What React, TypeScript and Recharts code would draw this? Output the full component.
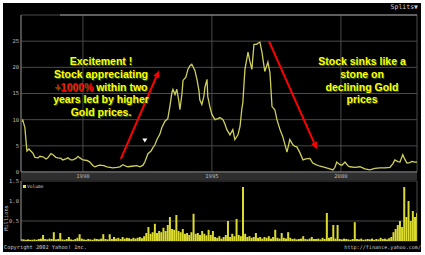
import React from 'react';
import { LineChart, Line, BarChart, Bar, XAxis, YAxis, CartesianGrid, ReferenceLine, ReferenceDot } from 'recharts';

// price readings (year, close in $)
const priceYears = [
  1987.64, 1987.67, 1987.75, 1987.83, 1987.91, 1987.98, 1988.06, 1988.14, 1988.26, 1988.33,
  1988.45, 1988.57, 1988.64, 1988.76, 1988.84, 1988.95, 1989.03, 1989.15, 1989.22, 1989.34,
  1989.42, 1989.53, 1989.61, 1989.73, 1989.81, 1989.88, 1990.0, 1990.16, 1990.27, 1990.39,
  1990.47, 1990.58, 1990.66, 1990.81, 1990.93, 1991.05, 1991.16, 1991.32, 1991.43, 1991.55,
  1991.67, 1991.74, 1991.9, 1992.09, 1992.21, 1992.33, 1992.4, 1992.52, 1992.64, 1992.71,
  1992.79, 1992.87, 1992.98, 1993.06, 1993.18, 1993.29, 1993.37, 1993.45, 1993.49, 1993.57,
  1993.64, 1993.72, 1993.76, 1993.84, 1993.88, 1993.99, 1994.07, 1994.15, 1994.22, 1994.26,
  1994.34, 1994.42, 1994.5, 1994.53, 1994.61, 1994.69, 1994.73, 1994.81, 1994.84, 1994.92,
  1995.0, 1995.12, 1995.23, 1995.31, 1995.43, 1995.5, 1995.58, 1995.7, 1995.81, 1995.89,
  1996.01, 1996.09, 1996.16, 1996.2, 1996.28, 1996.4, 1996.47, 1996.55, 1996.63, 1996.74,
  1996.78, 1996.86, 1996.94, 1997.05, 1997.17, 1997.25, 1997.33, 1997.44, 1997.52, 1997.64,
  1997.75, 1997.91, 1998.02, 1998.14, 1998.22, 1998.29, 1998.41, 1998.53, 1998.64, 1998.8,
  1998.91, 1999.03, 1999.19, 1999.38, 1999.57, 1999.69, 1999.77, 1999.84, 1999.96, 2000.04,
  2000.16, 2000.27, 2000.35, 2000.54, 2000.74, 2000.93, 2001.12, 2001.32, 2001.51, 2001.71,
  2001.9, 2002.02, 2002.09, 2002.21, 2002.29, 2002.4, 2002.48, 2002.56, 2002.67, 2002.75,
  2002.87, 2002.95,
];
const prices = [
  9.6, 9.9, 8.5, 4.0, 4.4, 4.0, 3.6, 2.8, 2.7, 3.0,
  2.9, 2.5, 2.7, 3.5, 3.3, 2.8, 2.7, 2.6, 2.3, 2.5,
  2.7, 2.3, 2.3, 2.6, 3.0, 2.7, 2.3, 2.2, 1.9, 1.2,
  1.0, 1.2, 1.3, 1.2, 1.0, 0.9, 0.8, 0.9, 1.0, 1.4,
  1.1, 1.0, 1.1, 1.2, 1.0, 1.3, 1.9, 3.5, 4.0, 4.6,
  5.2, 6.2, 7.2, 8.5, 9.7, 10.2, 12.5, 15.2, 15.8, 14.8,
  15.8, 13.5, 11.9, 15.0, 17.5, 18.1, 19.6, 20.3, 20.6, 20.2,
  19.4, 17.7, 15.5, 13.8, 12.9, 14.5, 16.2, 17.7, 14.4, 12.5,
  11.0, 10.0, 10.2, 10.4, 10.0, 9.2, 8.1, 7.1, 8.1, 6.2,
  7.1, 8.7, 12.0, 13.3, 19.6, 22.9, 21.2, 19.6, 24.4, 24.4,
  24.6, 24.8, 22.9, 19.2, 21.0, 19.0, 12.5, 11.9, 10.0, 8.1,
  6.7, 3.8, 6.2, 5.2, 4.9, 4.8, 3.7, 2.3, 2.5, 2.6,
  1.7, 1.4, 1.1, 0.9, 0.6, 0.4, 0.9, 1.9, 1.4, 1.3,
  1.9, 1.2, 1.0, 0.9, 1.0, 0.6, 0.4, 0.7, 0.8, 0.8,
  0.9, 1.6, 2.3, 2.0, 1.9, 3.3, 2.4, 1.7, 1.8, 2.0,
  1.9, 1.9,
];

// monthly volume in millions, starting Aug 1987
const volumeStartYear = 1987;
const volumeStartMonth = 7; // 0-based, August
const volumes = [
  0.05, 0.04, 0.03, 0.04, 0.03,
  0.03, 0.04, 0.03, 0.05, 0.06, 0.15, 0.05, 0.04, 0.06, 0.05, 0.22, 0.04, // 1988
  0.05, 0.2, 0.04, 0.03, 0.05, 0.1, 0.04, 0.03, 0.05, 0.08, 0.17, 0.06, // 1989
  0.04, 0.03, 0.05, 0.04, 0.03, 0.06, 0.05, 0.04, 0.06, 0.17, 0.05, 0.04, // 1990
  0.17, 0.05, 0.1, 0.06, 0.08, 0.05, 0.1, 0.06, 0.08, 0.07, 0.05, 0.08, // 1991
  0.06, 0.08, 0.1, 0.07, 0.12, 0.2, 0.35, 0.18, 0.22, 0.43, 0.2, 0.25, // 1992
  0.22, 0.33, 0.25, 0.4, 0.6, 0.3, 0.28, 0.65, 0.25, 0.22, 0.3, 0.18, // 1993
  0.2, 0.15, 0.22, 0.68, 0.18, 0.2, 0.15, 0.25, 0.18, 0.14, 0.28, 0.15, // 1994
  0.25, 0.1, 0.08, 0.12, 0.06, 0.1, 0.15, 0.5, 0.1, 0.18, 0.12, 0.55, // 1995
  0.15, 0.12, 1.35, 0.18, 0.1, 0.12, 0.08, 0.1, 0.2, 0.08, 0.1, 0.06, // 1996
  0.1, 0.08, 0.12, 0.06, 0.1, 0.28, 0.08, 0.06, 0.2, 0.08, 0.06, 0.22, // 1997
  0.08, 0.05, 0.06, 0.04, 0.05, 0.06, 0.12, 0.05, 0.04, 0.06, 0.1, 0.05, // 1998
  0.05, 0.06, 0.04, 0.08, 0.05, 0.7, 0.08, 0.1, 0.4, 0.06, 0.4, 0.05, // 1999
  0.04, 0.06, 0.05, 0.04, 0.03, 0.05, 0.47, 0.05, 0.04, 0.06, 0.03, 0.04, // 2000
  0.05, 0.04, 0.06, 0.03, 0.05, 0.04, 0.08, 0.05, 0.06, 0.04, 0.07, 0.1, // 2001
  0.22, 0.3, 0.4, 0.5, 0.35, 1.35, 0.6, 1.0, 0.5, 0.75, 0.6, 0.7, // 2002
];

const yearTicks = [1990, 1995, 2000];
const rulerTicks = [1990, 1991, 1992, 1993, 1994, 1995, 1996, 1997, 1998, 1999, 2000, 2001, 2002];
const priceTicks = [0, 5, 10, 15, 20, 25];
const volumeTicks = [0, 0.5, 1, 1.5];
const xDomain = [1987.6, 2002.95];

const leftNote = ['Excitement !', 'Stock appreciating', '+1000%| within two', 'years led by higher', 'Gold prices.'];
const rightNote = ['Stock sinks like a', 'stone on', 'declining Gold', 'prices'];

// annotation anchors in data units
const riseArrow = [{ x: 1991.47, y: 2.5 }, { x: 1992.95, y: 19.4 }];
const fallArrow = [{ x: 1997.21, y: 25 }, { x: 1999.07, y: 4.4 }];
const splitMark = { x: 1992.4, y: 6.0 };

const priceData = priceYears.map((t, i) => ({ t, price: prices[i] }));
const volumeData = volumes.map((v, i) => ({
  t: volumeStartYear + (volumeStartMonth + i + 0.5) / 12,
  volume: v,
}));

const tickFont = { fill: '#bbbbbb', fontSize: 5.5, fontFamily: 'DejaVu Sans Mono' };
const gridColor = '#4a4a4a';

const Arrow = (props: any) => {
  const { x1, y1, x2, y2 } = props;
  const ang = Math.atan2(y2 - y1, x2 - x1);
  const len = 7;
  const w = 3.2;
  const bx = x2 - len * Math.cos(ang);
  const by = y2 - len * Math.sin(ang);
  const pts = `${x2},${y2} ${bx + w * Math.sin(ang)},${by - w * Math.cos(ang)} ${bx - w * Math.sin(ang)},${by + w * Math.cos(ang)}`;
  return (
    <g>
      <line x1={x1} y1={y1} x2={bx} y2={by} stroke="#ff0000" strokeWidth={2} />
      <polygon points={pts} fill="#ff0000" />
    </g>
  );
};

const SplitTriangle = (props: any) => {
  const { cx, cy } = props;
  return <polygon points={`${cx - 2.5},${cy - 2} ${cx + 2.5},${cy - 2} ${cx},${cy + 2}`} fill="#ffffff" />;
};

const YearTick = (props: any) => {
  const { x, y, payload } = props;
  return (
    <text x={x} y={y + 6} textAnchor="middle" {...tickFont}>
      {payload.value}
    </text>
  );
};

const noteStyle: React.CSSProperties = {
  position: 'absolute',
  top: 55,
  fontFamily: '"Liberation Sans", Arial, sans-serif',
  fontWeight: 'bold',
  fontSize: 10.5,
  lineHeight: '12.75px',
  color: '#ffff00',
  textAlign: 'center',
  textShadow: '1px 1px 0 #2a5a14',
  whiteSpace: 'nowrap',
};

const smallText: React.CSSProperties = {
  position: 'absolute',
  fontFamily: '"DejaVu Sans Mono", monospace',
  color: '#cccccc',
  whiteSpace: 'nowrap',
};

function Note({ lines, left, width }: { lines: string[]; left: number; width: number }) {
  return (
    <div style={{ ...noteStyle, left, width }}>
      {lines.map((l) => {
        const [red, rest] = l.includes('|') ? l.split('|') : ['', l];
        return (
          <div key={l}>
            {red && <span style={{ color: '#ff0000' }}>{red}</span>}
            {rest}
          </div>
        );
      })}
    </div>
  );
}

export default function App() {
  return (
    <div style={{ position: 'absolute', left: 0, top: 0, width: 425, height: 255, background: '#ffffff' }}>
      <div style={{ position: 'absolute', left: 3, top: 3, width: 418, height: 249, background: '#000000', overflow: 'hidden' }}>
        <div style={{ ...smallText, left: 1, top: 241, fontSize: 5.3, lineHeight: '7px' }}>Copyright 2002 Yahoo! Inc.</div>
        <div style={{ ...smallText, right: 0, top: 241, fontSize: 5.1, lineHeight: '7px' }}>http://finance.yahoo.com/</div>
        <div style={{ ...smallText, right: 3, top: 0, fontSize: 6.5, lineHeight: '8px' }}>Splits▼</div>
      </div>
      {/* date band under the price panel */}
      <div style={{ position: 'absolute', left: 21, top: 173, width: 396, height: 7, background: '#2e2e2e' }} />

      <div style={{ position: 'absolute', left: 0, top: 0 }}>
        <LineChart width={425} height={181} data={priceData} margin={{ top: 15, right: 8, left: 0, bottom: 0 }}>
          <CartesianGrid stroke={gridColor} vertical horizontal />
          <XAxis
            dataKey="t"
            type="number"
            domain={xDomain}
            allowDataOverflow
            ticks={yearTicks}
            height={9}
            tickSize={0}
            tickMargin={0}
            tick={<YearTick />}
            axisLine={{ stroke: '#888888' }}
          />
          <XAxis
            xAxisId="top"
            orientation="top"
            dataKey="t"
            type="number"
            domain={xDomain}
            allowDataOverflow
            ticks={rulerTicks}
            height={1}
            mirror
            tickSize={3}
            tick={false}
            axisLine={false}
            tickLine={{ stroke: '#999999' }}
          />
          <YAxis
            type="number"
            domain={[0, 30]}
            ticks={priceTicks}
            width={21}
            tickSize={0}
            tickMargin={2}
            tick={tickFont}
            axisLine={{ stroke: '#777777' }}
          />
          <ReferenceLine
            segment={[{ x: 1989.11, y: 30 }, { x: 2002.95, y: 30 }]}
            stroke="#999999"
            strokeWidth={1}
            ifOverflow="visible"
          />
          <Line
            type="linear"
            dataKey="price"
            stroke="#cfcf5c"
            strokeWidth={1.3}
            dot={false}
            isAnimationActive={false}
          />
          <ReferenceLine segment={riseArrow} shape={Arrow} ifOverflow="visible" />
          <ReferenceLine segment={fallArrow} shape={Arrow} ifOverflow="visible" />
          <ReferenceDot x={splitMark.x} y={splitMark.y} shape={SplitTriangle} ifOverflow="visible" />
        </LineChart>
      </div>

      <div style={{ position: 'absolute', left: 0, top: 0 }}>
        <BarChart width={425} height={243} data={volumeData} margin={{ top: 181, right: 8, left: 0, bottom: 2 }}>
          <CartesianGrid stroke={gridColor} vertical horizontal />
          <XAxis dataKey="t" type="number" domain={xDomain} allowDataOverflow ticks={yearTicks} height={0} tick={false} tickLine={false} axisLine={false} />
          <YAxis
            type="number"
            domain={[0, 1.5]}
            ticks={volumeTicks}
            width={21}
            tickSize={0}
            tickMargin={2}
            tick={tickFont}
            tickFormatter={(v: number) => v.toFixed(1)}
            axisLine={{ stroke: '#777777' }}
          />
          <Bar dataKey="volume" fill="#dcdc30" barSize={2} isAnimationActive={false} />
        </BarChart>
      </div>

      <div style={{ position: 'absolute', left: 23, top: 185, width: 3, height: 3, background: '#e0e034' }} />
      <div style={{ ...smallText, left: 27, top: 183, fontSize: 4.6, lineHeight: '7px' }}>Volume</div>
      <div
        style={{
          ...smallText,
          left: 6,
          top: 218,
          fontSize: 5.3,
          lineHeight: '6px',
          transform: 'translate(-50%, -50%) rotate(-90deg)',
        }}
      >
        Millions
      </div>

      <Note lines={leftNote} left={41} width={120} />
      <Note lines={rightNote} left={307} width={110} />
    </div>
  );
}
